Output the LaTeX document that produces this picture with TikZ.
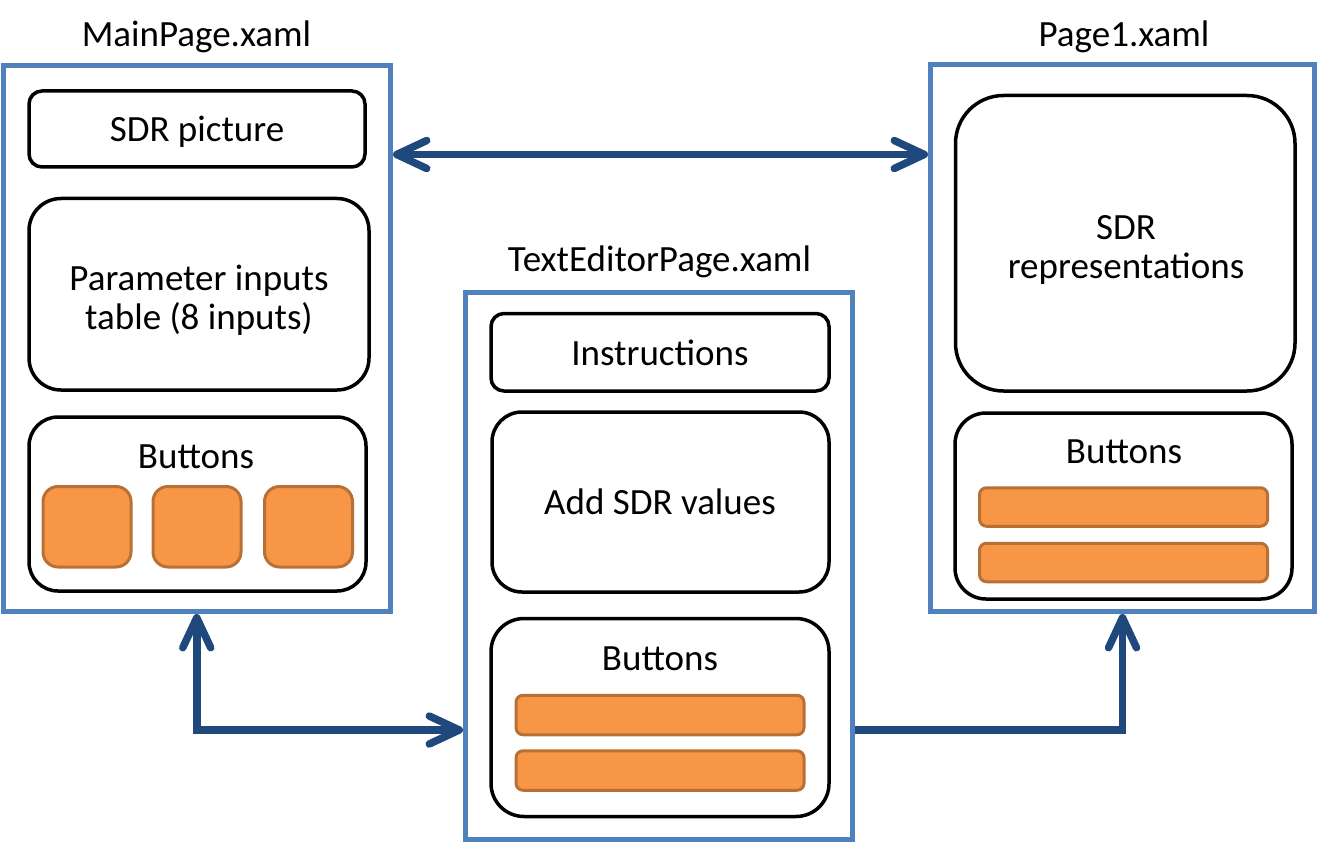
\documentclass[tikz,border=0pt]{standalone}
\usepackage{fontspec}
\setmainfont{Carlito}
\usetikzlibrary{arrows.meta}
\definecolor{pageblue}{RGB}{79,129,189}
\definecolor{navblue}{RGB}{31,73,125}
\definecolor{btnorange}{RGB}{247,150,70}
\definecolor{btnedge}{RGB}{185,112,52}

\begin{document}
\begin{tikzpicture}[x=0.5pt, y=-0.5pt,
    frame/.style={draw=pageblue, line width=2.5pt, inner sep=0pt},
    panel/.style={draw=black, line width=1.75pt, rounded corners=#1, inner sep=0pt},
    btn/.style={draw=btnedge, fill=btnorange, line width=1.5pt, rounded corners=#1, inner sep=0pt},
    txt/.style={font=\fontsize{18.5}{19.5}\selectfont, inner sep=0pt, anchor=base, align=center},
    nav/.style={draw=navblue, line width=3.75pt, >={Straight Barb[length=15pt, width=14pt, round]}}]
    \useasboundingbox (0,0) rectangle (1320,845);

    \node[frame, minimum width=193.75pt, minimum height=273pt] (main) at (196.75,338.5) {};
    \node[frame, minimum width=193.5pt, minimum height=273.5pt] (editor) at (659,566) {};
    \node[frame, minimum width=192pt, minimum height=273.25pt] (page) at (1122.5,338.25) {};

    \node[txt] (mainlbl) at (196.5,47) {MainPage.xaml};
    \node[txt] (editorlbl) at (659.5,271) {TextEditorPage.xaml};
    \node[txt] (pagelbl) at (1124,47) {Page1.xaml};

    \node[panel=6.5pt, minimum width=168pt, minimum height=38pt] (sdrpic) at (197,129) {};
    \node[panel=16pt, minimum width=170pt, minimum height=95.75pt] (params) at (199,294.25) {};
    \node[panel=14.5pt, minimum width=168.5pt, minimum height=87pt] (mainbtns) at (197.5,504) {};
    \node[txt] (sdrpictxt) at (197,141.7) {SDR picture};
    \node[txt] (paramstxt) at (199,329) {Parameter inputs\\table (8 inputs)};
    \node[txt] (mainbtnstxt) at (196,468) {Buttons};
    \foreach \x [count=\i] in {87,197,308.5}
        \node[btn=7.5pt, minimum width=44pt, minimum height=40.25pt] (mainbtn\i) at (\x,526.75) {};

    \node[panel=6.5pt, minimum width=169pt, minimum height=38.75pt] (instr) at (660,352.25) {};
    \node[panel=15pt, minimum width=168.5pt, minimum height=90pt] (addsdr) at (660.5,502) {};
    \node[panel=16.5pt, minimum width=169pt, minimum height=99pt] (editbtns) at (660,717.5) {};
    \node[txt] (instrtxt) at (660,365) {Instructions};
    \node[txt] (addsdrtxt) at (660,514) {Add SDR values};
    \node[txt] (editbtnstxt) at (660,670) {Buttons};
    \foreach \y [count=\i] in {715,770.5}
        \node[btn=3.5pt, minimum width=144pt, minimum height=19.75pt] (editbtn\i) at (660,\y) {};

    \node[panel=24pt, minimum width=169.75pt, minimum height=147.75pt] (sdrrep) at (1125.25,243.25) {};
    \node[panel=15.5pt, minimum width=168.5pt, minimum height=93pt] (pagebtns) at (1123.5,506) {};
    \node[txt] (sdrreptxt) at (1126,278) {SDR\\representations};
    \node[txt] (pagebtnstxt) at (1124,463) {Buttons};
    \foreach \y [count=\i] in {507,562.5}
        \node[btn=3.5pt, minimum width=144pt, minimum height=19.25pt] (pagebtn\i) at (1123.5,\y) {};

    \coordinate (navtop) at (660,154.5);
    \coordinate (navlow) at (660,730);
    \draw[nav, <->] (main.east |- navtop) -- (page.west |- navtop);
    \draw[nav, <->] (main.south) |- (editor.west |- navlow);
    \draw[nav, ->] (editor.east |- navlow) -| (page.south);
\end{tikzpicture}
\end{document}
